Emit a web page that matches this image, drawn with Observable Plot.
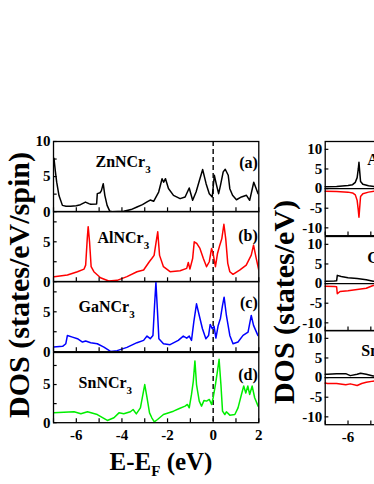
<!DOCTYPE html>
<html><head><meta charset="utf-8">
<script src="https://cdn.jsdelivr.net/npm/d3@7"></script>
<script src="https://cdn.jsdelivr.net/npm/@observablehq/plot@0.6"></script>
<style>
html,body{margin:0;padding:0;background:#fff;}
#fig{position:relative;width:374px;height:484px;overflow:hidden;background:#fff;font-family:"Liberation Serif","DejaVu Serif",serif;font-weight:bold;color:#000;}
#fig svg{position:absolute;}
.title{position:absolute;white-space:nowrap;line-height:1;}
.rot{transform:translate(-50%,-50%) rotate(-90deg);}
</style></head><body><div id="fig"></div><script>
// ---------- data (energy E-EF in eV, DOS) ----------
const xDomain = [-7, 2];
const xTickValues = [-7,-6,-5,-4,-3,-2,-1,0,1,2];
const xTickLabels = [-6,-4,-2,0,2];
const yTickLeft = [0,2.5,5,7.5,10];
const yLabelsTop = [0,5,10];
const yLabelsOther = [0,5];
const yTickRight = [-10,-5,0,5,10];

const compoundsLeft = ["ZnNCr3","AlNCr3","GaNCr3","SnNCr3"];
const panelTags = ["(a)","(b)","(c)","(d)"];
const compoundsRight = ["AlNCr3","GaNCr3","SnNCr3"];

const dosZnNCr3 = [[-7,7.0],[-6.98,7.6],[-6.92,5.8],[-6.86,4.2],[-6.76,2.3],[-6.61,0.9],[-6.45,0.78],[-6.25,0.77],[-6.0,0.85],[-5.82,1.0],[-5.6,1.37],[-5.45,1.15],[-5.37,1.05],[-5.11,1.1],[-5.08,2.57],[-4.96,2.7],[-4.9,3.0],[-4.82,3.99],[-4.75,2.33],[-4.65,0.9],[-4.53,0.05],[-4.43,0],[-3.92,0.05],[-3.6,0.3],[-3.34,0.67],[-3.1,1.0],[-2.9,1.4],[-2.76,1.66],[-2.61,1.48],[-2.39,2.8],[-2.24,4.7],[-2.17,4.2],[-2.09,4.7],[-1.96,3.3],[-1.74,2.33],[-1.45,1.86],[-1.23,2.1],[-1.05,3.38],[-0.9,1.62],[-0.75,2.81],[-0.6,4.48],[-0.46,6.0],[-0.31,3.99],[-0.17,2.57],[-0.04,2.1],[0.05,5.19],[0.15,3.76],[0.24,2.57],[0.32,3.76],[0.44,5.67],[0.53,6.05],[0.66,5.19],[0.73,3.28],[0.85,2.33],[1.02,1.7],[1.24,2.1],[1.46,2.33],[1.6,1.62],[1.78,4.2],[1.97,2.57],[2,2.5]];
const dosAlNCr3 = [[-7,0.6],[-6.97,0.63],[-6.39,0.83],[-5.95,1.25],[-5.66,1.58],[-5.59,2.08],[-5.52,5.4],[-5.48,6.9],[-5.42,5.0],[-5.35,1.88],[-5.23,1.25],[-4.94,0.5],[-4.58,0.08],[-4.21,0.17],[-3.78,0.63],[-3.34,1.25],[-3.05,1.46],[-2.8,2.5],[-2.69,2.9],[-2.59,3.3],[-2.5,5.0],[-2.43,6.25],[-2.35,3.3],[-2.18,1.88],[-1.89,1.25],[-1.45,1.38],[-1.16,1.67],[-1.09,2.4],[-1.02,1.58],[-0.9,2.9],[-0.83,5.0],[-0.72,4.8],[-0.58,4.17],[-0.43,2.9],[-0.29,1.88],[-0.17,2.5],[-0.07,4.17],[0.0,3.5],[0.1,1.88],[0.19,3.54],[0.29,4.58],[0.38,5.4],[0.47,7.2],[0.55,5.4],[0.64,2.3],[0.73,1.25],[0.87,0.92],[1.16,1.46],[1.45,2.08],[1.67,3.33],[1.77,4.58],[1.89,2.9],[2.0,1.46]];
const dosGaNCr3 = [[-7,0.58],[-6.6,0.67],[-6.46,1.0],[-6.39,2.04],[-6.17,1.83],[-5.95,1.63],[-5.73,1.21],[-5.59,1.33],[-5.37,1.13],[-5.08,1.0],[-4.79,0.58],[-4.5,0.04],[-4.21,0.13],[-3.78,0.54],[-3.34,1.13],[-3.05,1.42],[-2.9,1.96],[-2.76,1.63],[-2.64,2.04],[-2.57,5.8],[-2.51,8.7],[-2.44,4.96],[-2.38,1.63],[-2.18,1.0],[-1.89,0.88],[-1.53,1.42],[-1.31,1.96],[-1.16,1.7],[-1.05,1.96],[-0.95,1.42],[-0.85,3.7],[-0.73,6.0],[-0.61,4.54],[-0.47,2.88],[-0.32,1.63],[-0.2,2.04],[-0.13,3.42],[-0.04,2.88],[0.04,3.17],[0.12,1.71],[0.22,3.29],[0.32,4.2],[0.41,5.8],[0.48,6.83],[0.58,4.54],[0.73,2.04],[0.87,1.0],[1.09,1.21],[1.31,2.04],[1.53,2.46],[1.67,4.54],[1.77,3.3],[1.96,2.04],[2,2.0]];
const dosSnNCr3 = [[-7,1.29],[-6.1,1.43],[-5.8,1.16],[-5.51,1.43],[-5.08,1.07],[-4.64,0.29],[-4.35,0.64],[-4.13,1.29],[-3.92,1.16],[-3.63,1.43],[-3.51,1.73],[-3.37,1.16],[-3.19,1.95],[-3.08,3.7],[-3.0,5.0],[-2.9,3.27],[-2.79,1.29],[-2.69,0.64],[-2.58,0.11],[-2.44,0.42],[-2.18,1.07],[-1.74,1.51],[-1.48,1.86],[-1.23,2.17],[-1.13,2.39],[-1.05,1.95],[-0.95,3.7],[-0.87,5.46],[-0.8,8.1],[-0.73,5.0],[-0.61,2.83],[-0.51,2.17],[-0.4,2.92],[-0.29,2.83],[-0.17,3.05],[-0.07,2.39],[0.0,3.27],[0.1,5.0],[0.19,6.78],[0.26,8.3],[0.34,5.0],[0.41,1.51],[0.51,1.07],[0.58,1.43],[0.73,0.99],[0.95,1.07],[1.09,1.95],[1.24,3.7],[1.34,4.8],[1.43,3.9],[1.52,4.8],[1.6,3.7],[1.71,4.8],[1.82,3.27],[1.97,2.17],[2,2.1]];

// spin-resolved (right column, only the visible window)
const upAl = [[-7,0.5],[-6.5,0.55],[-6.0,0.8],[-5.8,1.0],[-5.68,1.6],[-5.6,2.8],[-5.55,5.0],[-5.52,6.7],[-5.49,4.5],[-5.45,1.8],[-5.35,1.1],[-5.1,0.7],[-4.8,0.5],[-4.5,0.4]];
const dnAl = [[-7,-0.7],[-6.5,-0.75],[-6.0,-0.9],[-5.8,-1.1],[-5.68,-1.6],[-5.6,-3.0],[-5.55,-5.5],[-5.52,-7.3],[-5.49,-5.0],[-5.45,-2.0],[-5.35,-1.3],[-5.1,-0.9],[-4.8,-0.6],[-4.5,-0.5]];
const upGa = [[-7,0.6],[-6.6,0.65],[-6.5,0.7],[-6.47,2.1],[-6.3,1.8],[-6.0,1.5],[-5.6,1.3],[-5.2,1.0],[-4.9,0.6],[-4.5,0.3]];
const dnGa = [[-7,-0.7],[-6.6,-0.75],[-6.5,-0.8],[-6.47,-2.6],[-6.35,-2.0],[-6.0,-1.8],[-5.6,-1.5],[-5.2,-1.2],[-4.9,-0.5],[-4.5,-0.3]];
const upSn = [[-7,0.85],[-6.9,0.85],[-6.5,1.0],[-6.1,1.0],[-5.9,0.5],[-5.6,0.85],[-5.45,1.1],[-5.2,0.85],[-4.9,0.4],[-4.5,0.3]];
const dnSn = [[-7,-1.4],[-6.9,-1.5],[-6.5,-1.5],[-6.1,-1.85],[-5.9,-1.6],[-5.6,-2.0],[-5.4,-1.5],[-5.2,-1.2],[-4.9,-0.9],[-4.5,-0.8]];

// ---------- layout / style ----------
const fig = document.getElementById("fig");
const FONT = "Liberation Serif";
const baseStyle = {background:"none", overflow:"visible", fontFamily:FONT, fontWeight:"bold", fontSize:"15px", color:"#000"};
const LW = 1.5;

function subscript3(svg){
  svg.querySelectorAll("text").forEach(t=>{
    if (/Cr3$/.test(t.textContent) && !t.querySelector("tspan")) {
      const s = t.textContent;
      t.textContent = s.slice(0,-1);
      const ts = document.createElementNS("http://www.w3.org/2000/svg","tspan");
      ts.setAttribute("dy","6"); ts.setAttribute("font-size","11"); ts.textContent = "3";
      t.appendChild(ts);
    }
  });
}

const leftPanels = [
  {data:dosZnNCr3, color:"#000000", ydom:[0,10],  ylab:yLabelsTop,   top:141.0, lab:[-5.16,6.3], tagDy:27},
  {data:dosAlNCr3, color:"#ff0000", ydom:[0,8.8], ylab:yLabelsOther, top:211.2, lab:[-5.07,4.8], tagDy:30},
  {data:dosGaNCr3, color:"#0000ff", ydom:[0,8.8], ylab:yLabelsOther, top:281.4, lab:[-5.9,5.0],  tagDy:27},
  {data:dosSnNCr3, color:"#00ee00", ydom:[0,9.2], ylab:yLabelsOther, top:351.6, lab:[-5.9,4.6],  tagDy:28}
];
const PH = 70.2, ML = 53, FW = 205.3, MT = 12, MB = 26;

leftPanels.forEach((p,i)=>{
  const last = i === leftPanels.length-1;
  const [y0,y1] = p.ydom;
  const svg = Plot.plot({
    width: ML+FW+8, height: MT+PH+MB,
    marginLeft: ML, marginRight: 8, marginTop: MT, marginBottom: MB,
    style: baseStyle,
    x: {domain: xDomain, axis: last ? undefined : null},
    y: {domain: p.ydom, axis: null},
    marks: [
      Plot.ruleX([0], {strokeDasharray:"5,3", strokeWidth:1.4, stroke:"#000"}),
      Plot.line(p.data, {x:d=>d[0], y:d=>d[1], stroke:p.color, strokeWidth:LW, clip:true}),
      Plot.ruleX(xTickValues, {x:d=>d, y1:y0, y2:y0+(y1-y0)*0.055, stroke:"#000", strokeWidth:1.2}),
      Plot.ruleY(yTickLeft.filter(v=>v<=y1), {y:d=>d, x1:xDomain[0], x2:xDomain[0]+0.16, stroke:"#000", strokeWidth:1.2}),
      Plot.axisY(p.ylab, {anchor:"left", tickSize:0, tickPadding:3, fontSize:15, tickFormat:d=>String(d), label:null}),
      last ? Plot.axisX(xTickLabels, {anchor:"bottom", tickSize:0, tickPadding:7, fontSize:15, tickFormat:d=>String(d), label:null}) : null,
      Plot.text([{t:compoundsLeft[i], x:p.lab[0], y:p.lab[1]}], {x:"x", y:"y", text:"t", textAnchor:"start", lineAnchor:"bottom", fontSize:16, fontWeight:"bold"}),
      Plot.text([panelTags[i]], {frameAnchor:"top-right", dx:-1, dy:p.tagDy, textAnchor:"end", lineAnchor:"bottom", fontSize:16, fontWeight:"bold"}),
      Plot.frame({stroke:"#000", strokeWidth:1.3})
    ]
  });
  svg.style.left = "0px";
  svg.style.top = (p.top-MT)+"px";
  subscript3(svg);
  fig.appendChild(svg);
});

// right column: spin-resolved DOS (figure cropped at the right edge)
const rightPanels = [
  {up:upAl, dn:dnAl, top:141.3, lab:[-5.16,6.0]},
  {up:upGa, dn:dnGa, top:235.5, lab:[-5.16,5.3]},
  {up:upSn, dn:dnSn, top:329.7, lab:[-5.42,5.5]}
];
const RPH = 94.2, RML = 54.7, RLEFT = 270;
rightPanels.forEach((p,i)=>{
  const last = i === rightPanels.length-1;
  const svg = Plot.plot({
    width: RML+FW+8, height: MT+RPH+MB,
    marginLeft: RML, marginRight: 8, marginTop: MT, marginBottom: MB,
    style: baseStyle,
    x: {domain: xDomain, axis: last ? undefined : null},
    y: {domain: [-12,12], axis: null},
    marks: [
      Plot.ruleY([0], {stroke:"#000", strokeWidth:1.3}),
      Plot.line(p.up, {x:d=>d[0], y:d=>d[1], stroke:"#000", strokeWidth:LW}),
      Plot.line(p.dn, {x:d=>d[0], y:d=>d[1], stroke:"#ff0000", strokeWidth:LW}),
      Plot.ruleX(xTickValues, {x:d=>d, y1:-12, y2:-12+24*0.04, stroke:"#000", strokeWidth:1.2}),
      Plot.ruleY(yTickRight, {y:d=>d, x1:xDomain[0], x2:xDomain[0]+0.16, stroke:"#000", strokeWidth:1.2}),
      Plot.axisY(yTickRight, {anchor:"left", tickSize:0, tickPadding:3, fontSize:15, tickFormat:d=>String(d), label:null}),
      last ? Plot.axisX(xTickLabels, {anchor:"bottom", tickSize:0, tickPadding:7, fontSize:15, tickFormat:d=>String(d), label:null}) : null,
      Plot.text([{t:compoundsRight[i], x:p.lab[0], y:p.lab[1]}], {x:"x", y:"y", text:"t", textAnchor:"start", lineAnchor:"bottom", fontSize:16, fontWeight:"bold"}),
      Plot.frame({stroke:"#000", strokeWidth:1.3})
    ]
  });
  svg.style.left = RLEFT+"px";
  svg.style.top = (p.top-MT)+"px";
  subscript3(svg);
  fig.appendChild(svg);
});

// axis titles (real text)
function title(html, css){ const d=document.createElement("div"); d.className="title"; d.innerHTML=html; Object.assign(d.style, css); fig.appendChild(d); return d; }
title("DOS (states/eV/spin)", {left:"19px", top:"285px", fontSize:"30px"}).classList.add("rot");
title("DOS (states/eV)", {left:"284px", top:"302px", fontSize:"30px"}).classList.add("rot");
title("E-E<sub style='font-size:15px;vertical-align:-6px'>F</sub> (eV)", {left:"161px", top:"464px", fontSize:"25px", transform:"translate(-50%,-50%)"});
</script></body></html>
